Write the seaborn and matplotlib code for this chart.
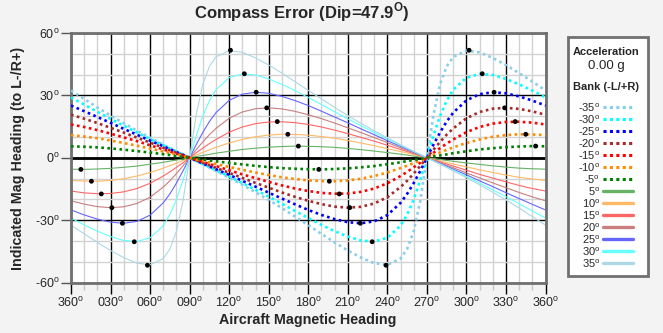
import matplotlib
matplotlib.use("Agg")
import matplotlib.pyplot as plt
import seaborn as sns
from matplotlib import font_manager
from matplotlib.lines import Line2D
from matplotlib.patches import Rectangle
from matplotlib.ticker import MultipleLocator

# ---------------- data ----------------
HEADING = [0, 10, 20, 30, 40, 50, 60, 70, 75, 80, 85, 90, 95, 100, 105, 110, 120, 130, 140,
           150, 160, 170, 180, 190, 200, 210, 220, 230, 240, 250, 255, 260, 265, 270, 275,
           280, 285, 290, 300, 310, 320, 330, 340, 350, 360]

ERR_P5 = [-5.5, -5.6, -5.4, -5.1, -4.6, -4.0, -3.1, -2.2, -1.6, -1.1, -0.6, 0.0,
          0.6, 1.1, 1.6, 2.2, 3.1, 4.0, 4.6, 5.1, 5.4, 5.6, 5.5, 5.3, 5.0, 4.5, 3.9, 3.2, 2.5, 1.7, 1.3, 0.8, 0.4,
          0.0, -0.4, -0.8, -1.3, -1.7, -2.5, -3.2, -3.9, -4.5, -5.0, -5.3, -5.5]
ERR_M5 = [5.5, 5.3, 5.0, 4.5, 3.9, 3.2, 2.5, 1.7, 1.3, 0.8, 0.4, 0.0,
          -0.4, -0.8, -1.3, -1.7, -2.5, -3.2, -3.9, -4.5, -5.0, -5.3, -5.5, -5.6, -5.4, -5.1, -4.6, -4.0, -3.1, -2.2, -1.6, -1.1, -0.6,
          0.0, 0.6, 1.1, 1.6, 2.2, 3.1, 4.0, 4.6, 5.1, 5.4, 5.6, 5.5]
ERR_P10 = [-10.9, -11.2, -11.3, -10.9, -10.1, -8.8, -7.1, -5.0, -3.8, -2.6, -1.3, 0.0,
           1.3, 2.6, 3.8, 5.0, 7.1, 8.8, 10.1, 10.9, 11.3, 11.2, 10.9, 10.2, 9.4, 8.3, 7.1, 5.8, 4.4, 3.0, 2.3, 1.5, 0.8,
           0.0, -0.8, -1.5, -2.3, -3.0, -4.4, -5.8, -7.1, -8.3, -9.4, -10.2, -10.9]
ERR_M10 = [10.9, 10.2, 9.4, 8.3, 7.1, 5.8, 4.4, 3.0, 2.3, 1.5, 0.8, 0.0,
           -0.8, -1.5, -2.3, -3.0, -4.4, -5.8, -7.1, -8.3, -9.4, -10.2, -10.9, -11.2, -11.3, -10.9, -10.1, -8.8, -7.1, -5.0, -3.8, -2.6, -1.3,
           0.0, 1.3, 2.6, 3.8, 5.0, 7.1, 8.8, 10.1, 10.9, 11.3, 11.2, 10.9]
ERR_P15 = [-16.0, -16.9, -17.3, -17.2, -16.4, -14.8, -12.3, -8.8, -6.8, -4.6, -2.4, 0.0,
           2.4, 4.6, 6.8, 8.8, 12.3, 14.8, 16.4, 17.2, 17.3, 16.9, 16.0, 14.8, 13.3, 11.6, 9.8, 8.0, 6.0, 4.0, 3.0, 2.0, 1.0,
           0.0, -1.0, -2.0, -3.0, -4.0, -6.0, -8.0, -9.8, -11.6, -13.3, -14.8, -16.0]
ERR_M15 = [16.0, 14.8, 13.3, 11.6, 9.8, 8.0, 6.0, 4.0, 3.0, 2.0, 1.0, 0.0,
           -1.0, -2.0, -3.0, -4.0, -6.0, -8.0, -9.8, -11.6, -13.3, -14.8, -16.0, -16.9, -17.3, -17.2, -16.4, -14.8, -12.3, -8.8, -6.8, -4.6, -2.4,
           0.0, 2.4, 4.6, 6.8, 8.8, 12.3, 14.8, 16.4, 17.2, 17.3, 16.9, 16.0]
ERR_P20 = [-20.7, -22.3, -23.5, -24.0, -23.6, -22.0, -19.0, -14.1, -11.1, -7.6, -3.9, 0.0,
           3.9, 7.6, 11.1, 14.1, 19.0, 22.0, 23.6, 24.0, 23.5, 22.3, 20.7, 18.8, 16.7, 14.4, 12.1, 9.7, 7.3, 4.8, 3.6, 2.4, 1.2,
           0.0, -1.2, -2.4, -3.6, -4.8, -7.3, -9.7, -12.1, -14.4, -16.7, -18.8, -20.7]
ERR_M20 = [20.7, 18.8, 16.7, 14.4, 12.1, 9.7, 7.3, 4.8, 3.6, 2.4, 1.2, 0.0,
           -1.2, -2.4, -3.6, -4.8, -7.3, -9.7, -12.1, -14.4, -16.7, -18.8, -20.7, -22.3, -23.5, -24.0, -23.6, -22.0, -19.0, -14.1, -11.1, -7.6, -3.9,
           0.0, 3.9, 7.6, 11.1, 14.1, 19.0, 22.0, 23.6, 24.0, 23.5, 22.3, 20.7]
ERR_P25 = [-25.1, -27.5, -29.5, -31.0, -31.5, -30.6, -27.6, -21.7, -17.4, -12.2, -6.3, 0.0,
           6.3, 12.2, 17.4, 21.7, 27.6, 30.6, 31.5, 31.0, 29.5, 27.5, 25.1, 22.4, 19.6, 16.8, 13.9, 11.1, 8.2, 5.5, 4.1, 2.7, 1.4,
           0.0, -1.4, -2.7, -4.1, -5.5, -8.2, -11.1, -13.9, -16.8, -19.6, -22.4, -25.1]
ERR_M25 = [25.1, 22.4, 19.6, 16.8, 13.9, 11.1, 8.2, 5.5, 4.1, 2.7, 1.4, 0.0,
           -1.4, -2.7, -4.1, -5.5, -8.2, -11.1, -13.9, -16.8, -19.6, -22.4, -25.1, -27.5, -29.5, -31.0, -31.5, -30.6, -27.6, -21.7, -17.4, -12.2, -6.3,
           0.0, 6.3, 12.2, 17.4, 21.7, 27.6, 30.6, 31.5, 31.0, 29.5, 27.5, 25.1]
ERR_P30 = [-29.0, -32.3, -35.3, -37.9, -39.8, -40.3, -38.5, -32.7, -27.4, -20.1, -10.7, 0.0,
           10.7, 20.1, 27.4, 32.7, 38.5, 40.3, 39.8, 37.9, 35.3, 32.3, 29.0, 25.6, 22.1, 18.7, 15.4, 12.2, 9.0, 6.0, 4.5, 3.0, 1.5,
           0.0, -1.5, -3.0, -4.5, -6.0, -9.0, -12.2, -15.4, -18.7, -22.1, -25.6, -29.0]
ERR_M30 = [29.0, 25.6, 22.1, 18.7, 15.4, 12.2, 9.0, 6.0, 4.5, 3.0, 1.5, 0.0,
           -1.5, -3.0, -4.5, -6.0, -9.0, -12.2, -15.4, -18.7, -22.1, -25.6, -29.0, -32.3, -35.3, -37.9, -39.8, -40.3, -38.5, -32.7, -27.4, -20.1, -10.7,
           0.0, 10.7, 20.1, 27.4, 32.7, 38.5, 40.3, 39.8, 37.9, 35.3, 32.3, 29.0]
ERR_P35 = [-32.4, -36.6, -40.7, -44.6, -48.0, -50.7, -51.5, -48.5, -43.9, -35.3, -20.7, 0.0,
           20.7, 35.3, 43.9, 48.5, 51.5, 50.7, 48.0, 44.6, 40.7, 36.6, 32.4, 28.3, 24.2, 20.3, 16.6, 13.0, 9.6, 6.3, 4.7, 3.1, 1.6,
           0.0, -1.6, -3.1, -4.7, -6.3, -9.6, -13.0, -16.6, -20.3, -24.2, -28.3, -32.4]
ERR_M35 = [32.4, 28.3, 24.2, 20.3, 16.6, 13.0, 9.6, 6.3, 4.7, 3.1, 1.6, 0.0,
           -1.6, -3.1, -4.7, -6.3, -9.6, -13.0, -16.6, -20.3, -24.2, -28.3, -32.4, -36.6, -40.7, -44.6, -48.0, -50.7, -51.5, -48.5, -43.9, -35.3, -20.7,
           0.0, 20.7, 35.3, 43.9, 48.5, 51.5, 50.7, 48.0, 44.6, 40.7, 36.6, 32.4]

BANKS = [-35, -30, -25, -20, -15, -10, -5, 5, 10, 15, 20, 25, 30, 35]
BANK_LABELS = ["-35", "-30", "-25", "-20", "-15", "-10", "-5", "5", "10", "15", "20", "25", "30", "35"]
BANK_COLORS = ["#87CEEB", "#00FFFF", "#0000FF", "#A52A2A", "#FF0000", "#FF8C00", "#008000",
               "#66B366", "#FFBA66", "#FF6666", "#C97F7F", "#6666FF", "#66FFFF", "#ADD8E6"]

# max-error markers (banks 35 .. 5)
PEAK_VAL = [51.7, 40.4, 31.5, 24.0, 17.4, 11.3, 5.6]
SOLID_MAX_X = [121, 131.5, 140.5, 148.5, 156.5, 164.5, 172.5]
SOLID_MIN_X = [58, 48, 39, 31, 23, 15.5, 7.5]
DOTTED_MIN_X = [239, 228.5, 219.5, 211.5, 203.5, 196, 188]
DOTTED_MAX_X = [302, 312, 321, 329, 337, 345, 352.5]

XTICK_LABELS = ["360", "030", "060", "090", "120", "150", "180", "210", "240", "270", "300", "330", "360"]
YTICK_LABELS = ["-60", "-30", "0", "30", "60"]

SERIES = {-35: ERR_M35, -30: ERR_M30, -25: ERR_M25, -20: ERR_M20, -15: ERR_M15, -10: ERR_M10, -5: ERR_M5,
          5: ERR_P5, 10: ERR_P10, 15: ERR_P15, 20: ERR_P20, 25: ERR_P25, 30: ERR_P30, 35: ERR_P35}

# ---------------- fonts ----------------
def pick(names):
    for n in names:
        try:
            font_manager.findfont(font_manager.FontProperties(family=n), fallback_to_default=False)
            return n
        except Exception:
            pass
    return "DejaVu Sans"

FONT = pick(["Liberation Sans Narrow", "Liberation Sans", "Arial"])
sns.set_style("white")
plt.rcParams["font.family"] = [FONT, "DejaVu Sans"]
plt.rcParams["mathtext.fontset"] = "custom"
plt.rcParams["mathtext.rm"] = FONT
plt.rcParams["mathtext.bf"] = FONT + ":bold"

W, H = 663, 333
fig = plt.figure(figsize=(W / 100, H / 100), dpi=100, facecolor="#f3f3f3")
L, R, T, B = 71, 545.5, 33, 282.5
ax = fig.add_axes([L / W, 1 - B / H, (R - L) / W, (B - T) / H])
ax.set_facecolor("white")

def deg(s):
    return s + r"$^{\rm o}$"

# grid
ax.set_xlim(0, 360)
ax.set_ylim(-60, 60)
ax.xaxis.set_major_locator(MultipleLocator(30))
ax.xaxis.set_minor_locator(MultipleLocator(10))
ax.yaxis.set_major_locator(MultipleLocator(30))
ax.yaxis.set_minor_locator(MultipleLocator(10))
ax.grid(which="minor", color="#d2d2d2", lw=1.0)
ax.grid(which="major", color="#000000", lw=1.0)
ax.set_axisbelow(True)
ax.axhline(0, color="black", lw=2.0, zorder=1)

# curves
for bank, color in zip(BANKS, BANK_COLORS):
    vals = SERIES[bank]
    if bank < 0:
        sns.lineplot(x=HEADING, y=vals, ax=ax, color=color, lw=1.9, linestyle=(0, (1, 1.3)),
                     sort=False, legend=False, zorder=3)
    else:
        sns.lineplot(x=HEADING, y=vals, ax=ax, color=color, lw=0.8, sort=False, legend=False, zorder=2)

dot_x = SOLID_MAX_X + SOLID_MIN_X + DOTTED_MIN_X + DOTTED_MAX_X
dot_y = PEAK_VAL + [-v for v in PEAK_VAL] + [-v for v in PEAK_VAL] + PEAK_VAL
sns.scatterplot(x=dot_x, y=dot_y, ax=ax, color="black", s=12, edgecolor="none", zorder=5, legend=False)

# spines and ticks
for sp in ax.spines.values():
    sp.set_color("#707070")
    sp.set_linewidth(2.0)
ax.set_xticks(list(range(0, 361, 30)))
ax.set_xticklabels([deg(t) for t in XTICK_LABELS], fontsize=9)
ax.set_yticks([-60, -30, 0, 30, 60])
ax.set_yticklabels([deg(t) for t in YTICK_LABELS], fontsize=9)
ax.tick_params(axis="x", which="major", length=8, width=1.0, color="black", pad=2, direction="out")
ax.tick_params(axis="x", which="minor", length=5, width=1.0, color="#c8c8c8", direction="out")
ax.tick_params(axis="y", which="major", length=7, width=1.0, color="#555555", pad=1, direction="out")
ax.tick_params(axis="y", which="minor", length=0)
ax.tick_params(bottom=True, left=True, which="both")
ax.set_xlabel("")
ax.set_ylabel("")

def px(x, y):
    return x / W, 1 - y / H

fig.text(*px(302, 12), r"Compass Error (Dip=47.9$^{\mathbf{O}}$)", ha="center", va="center",
         fontsize=12, fontweight="bold")
fig.text(*px(308, 320), "Aircraft Magnetic Heading", ha="center", va="center", fontsize=10.3, fontweight="bold")
fig.text(*px(18, 158), "Indicated Mag Heading (to L-/R+)", ha="center", va="center", rotation=90,
         fontsize=10.3, fontweight="bold")

# legend box
x0, y0 = px(567.5, 275.5)
x1, y1 = px(648, 37)
fig.patches.append(Rectangle((x0, y0), x1 - x0, y1 - y0, transform=fig.transFigure,
                             facecolor="white", edgecolor="#707070", lw=2.0, zorder=1))
fig.text(*px(606, 52), "Acceleration", ha="center", va="center", fontsize=8, fontweight="bold")
fig.text(*px(606, 66), "0.00 g", ha="center", va="center", fontsize=9.5)
fig.text(*px(606, 87), "Bank (-L/+R)", ha="center", va="center", fontsize=8, fontweight="bold")
for i, (lab, bank, color) in enumerate(zip(BANK_LABELS, BANKS, BANK_COLORS)):
    yy = 106.7 + 12 * i
    fig.text(*px(600, yy + 1), deg(lab), ha="right", va="center", fontsize=8)
    xa, ya = px(603, yy)
    xb, _ = px(633, yy)
    if bank < 0:
        ln = Line2D([xa, xb], [ya, ya], transform=fig.transFigure, color=color, lw=2.2,
                    linestyle=(0, (1, 1.1)))
    else:
        ln = Line2D([xa, xb], [ya, ya], transform=fig.transFigure, color=color, lw=2.4)
    fig.lines.append(ln)

fig.savefig("out.png", dpi=100, facecolor=fig.get_facecolor())
